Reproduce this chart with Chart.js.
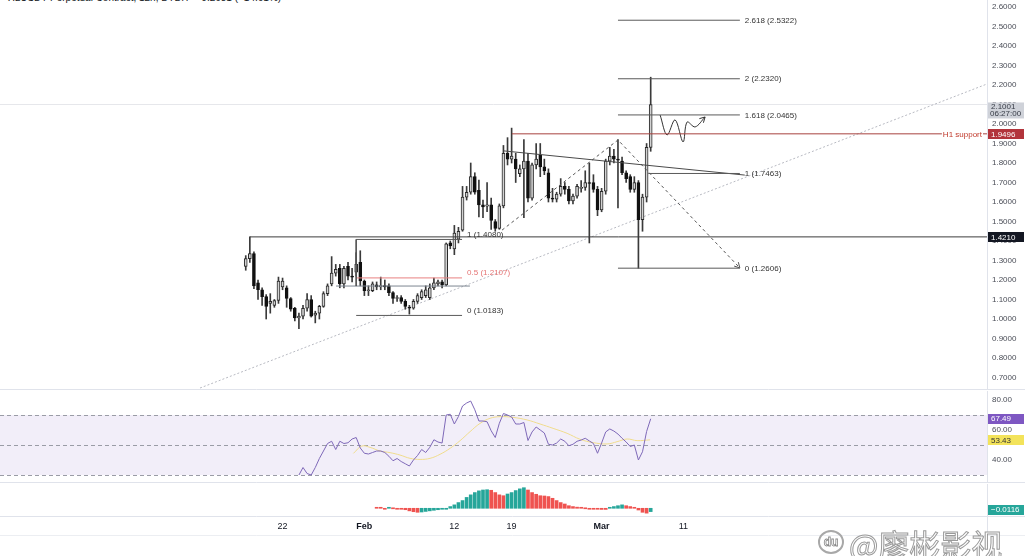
<!DOCTYPE html>
<html>
<head>
<meta charset="utf-8">
<script src="https://cdn.jsdelivr.net/npm/chart.js@4.4.1/dist/chart.umd.min.js"></script>
<style>
  body { margin: 0; background: #fff; width: 1025px; height: 556px; overflow: hidden; position: relative; font-family: "Liberation Sans", Arial, sans-serif; }
  .pane { position: absolute; left: 0; width: 1025px; }
  #title { position: absolute; left: 8px; top: -8px; font-size: 10px; color: #131722; white-space: nowrap; }
  #wm { position: absolute; left: 849px; top: 521px; font-family: "Noto Sans CJK SC", sans-serif; font-size: 31px; color: #fff; -webkit-text-stroke: 1px #9a9a9a; white-space: nowrap; }
  #logo { position: absolute; left: 818px; top: 530px; width: 22px; height: 20px; border: 2px solid #a8a8a8; border-radius: 50%; color: #fff; -webkit-text-stroke: 0.8px #8a8a8a; font: bold 12px "Liberation Sans", Arial; text-align: center; line-height: 20px; }
</style>
</head>
<body>
<div id="title">XLUSDT Perpetual Contract, 12h, BYBIT &nbsp;+0.2681 (+14.61%)</div>
<div class="pane" style="top:0;height:390px"><canvas id="priceChart" width="1025" height="390"></canvas></div>
<div class="pane" style="top:391px;height:92px"><canvas id="rsiChart" width="1025" height="92"></canvas></div>
<div class="pane" style="top:484px;height:56px"><canvas id="macdChart" width="1025" height="56"></canvas></div>
<div id="logo">du</div>
<div id="wm">@廖彬影视</div>
<script>
// 12h candles, day 0 = Feb 1
const firstDay = -14.5;
const opens = [1.270,1.310,1.335,1.185,1.150,1.115,1.080,1.070,1.095,1.165, 1.160,1.105,1.055,1.005,1.015,1.055,1.100,1.020,1.030,1.065,
  1.130,1.180,1.235,1.260,1.180,1.270,1.220,1.240,1.290,1.195, 1.145,1.145,1.175,1.165,1.172,1.170,1.135,1.105,1.110,1.090,
  1.060,1.055,1.090,1.110,1.120,1.110,1.160,1.180,1.190,1.175, 1.390,1.360,1.410,1.455,1.625,1.650,1.730,1.660,1.585,1.578,
  1.585,1.500,1.465,1.580,1.850,1.820,1.820,1.745,1.770,1.810, 1.620,1.790,1.840,1.780,1.750,1.620,1.615,1.640,1.680,1.665,
  1.605,1.630,1.670,1.675,1.700,1.700,1.665,1.560,1.655,1.810, 1.835,1.820,1.810,1.750,1.730,1.665,1.700,1.510,1.625,1.880];
const highs = [1.325,1.421,1.345,1.200,1.160,1.125,1.130,1.100,1.215,1.210, 1.170,1.110,1.060,1.030,1.070,1.130,1.120,1.040,1.070,1.140,
  1.180,1.320,1.280,1.280,1.270,1.290,1.260,1.340,1.350,1.200, 1.170,1.190,1.190,1.215,1.200,1.180,1.140,1.120,1.120,1.100,
  1.070,1.100,1.130,1.150,1.170,1.180,1.210,1.200,1.200,1.390, 1.400,1.480,1.470,1.680,1.680,1.800,1.750,1.713,1.610,1.700,
  1.620,1.510,1.590,1.890,1.930,1.979,1.850,1.790,1.920,1.850, 1.800,1.900,1.900,1.820,1.770,1.670,1.650,1.720,1.700,1.680,
  1.640,1.690,1.710,1.760,1.800,1.740,1.680,1.670,1.820,1.880, 1.870,1.920,1.830,1.760,1.740,1.730,1.710,1.640,1.900,2.240];
const lows = [1.250,1.290,1.155,1.100,1.070,1.000,1.030,1.060,1.080,1.150, 1.060,1.040,0.990,0.950,1.000,1.040,1.010,0.980,1.000,1.060,
  1.120,1.170,1.220,1.160,1.160,1.200,1.190,1.220,1.170,1.120, 1.120,1.140,1.150,1.150,1.150,1.120,1.080,1.090,1.080,1.050,
  1.025,1.050,1.080,1.100,1.110,1.100,1.150,1.170,1.160,1.170, 1.360,1.330,1.390,1.450,1.610,1.640,1.640,1.523,1.520,1.550,
  1.460,1.450,1.460,1.570,1.790,1.800,1.700,1.730,1.520,1.600, 1.610,1.770,1.730,1.740,1.600,1.600,1.600,1.630,1.640,1.590,
  1.590,1.620,1.650,1.660,1.390,1.650,1.530,1.550,1.640,1.790, 1.800,1.570,1.740,1.700,1.650,1.650,1.2606,1.450,1.600,1.860];
const closes = [1.310,1.335,1.170,1.150,1.115,1.065,1.090,1.095,1.195,1.195, 1.105,1.050,1.005,1.015,1.055,1.100,1.015,1.030,1.065,1.130,
  1.170,1.235,1.255,1.180,1.260,1.220,1.215,1.280,1.195,1.145, 1.150,1.180,1.165,1.172,1.165,1.135,1.105,1.110,1.090,1.065,
  1.055,1.090,1.120,1.140,1.150,1.160,1.185,1.190,1.175,1.385, 1.375,1.440,1.450,1.625,1.650,1.730,1.650,1.585,1.575,1.585,
  1.505,1.465,1.580,1.850,1.820,1.835,1.770,1.770,1.810,1.620, 1.790,1.820,1.780,1.760,1.620,1.615,1.640,1.680,1.665,1.605,
  1.630,1.680,1.675,1.700,1.695,1.665,1.560,1.655,1.810,1.835, 1.820,1.815,1.750,1.720,1.665,1.700,1.510,1.625,1.880,2.100];

// RSI(14) from candle 13, RSI-based MA read at a few points
const rsiStart = 13;
const rsiValues = [30,35,31,30,35,41,46,51,52.5,47, 52.5,51,51.5,54,55,48,44.5,44,45,46,
  46,45,42.5,39.5,41,39,37.5,36,40,43, 47,45,48.5,53.5,52,51.3,70,70.5,64,69,
  76,78,79.3,73.5,66,66,65.5,59.5,55,64.5, 71,70,68.7,64,64,65,53,58.7,62,60,
  58,50.5,50,51.3,54,52.5,49.5,50.5,52.5,53.3, 54.5,52.7,51,44.5,51.3,58.7,60.7,59.3,57.3,54.5,
  52,49,50,40,45.5,59,67.49];
const rsiMaDays = [-1.34,-0.32,0.70,1.92,3.14,4.36,5.59,6.81,8.03,9.25,10.48,11.70,12.92,14.14,15.37,16.59,18.18,19.89,21.48,23.07,24.78,26.37,27.96,29.67,30.89,32.12,33.34,34.93];
const rsiMaValues = [44.4,49.3,48.4,46,44.9,43.3,41.1,40.4,41.1,43.8,47.8,52.9,58.9,64.4,67.8,68.9,68.4,66.7,64,61.1,57.8,53.8,51.6,50.7,52.2,54,52.9,53.43];

// MACD histogram from candle 32
const macdStart = 32;
const macdHist = [0.001,0.001,-0.001,0.001,0.000,-0.001,-0.002,-0.005,-0.009,-0.012,
  -0.014,-0.013,-0.011,-0.009,-0.007,-0.005,-0.003,-0.001,0.006,0.012,
  0.020,0.027,0.038,0.047,0.055,0.061,0.064,0.065,0.063,0.055,
  0.047,0.044,0.050,0.055,0.062,0.068,0.072,0.064,0.055,0.049,
  0.044,0.043,0.041,0.035,0.027,0.020,0.015,0.009,0.006,0.004,
  0.001,0.000,-0.001,-0.001,-0.002,-0.004,-0.004,0.002,0.006,0.009,
  0.012,0.009,0.006,0.002,-0.006,-0.014,-0.017,-0.0116];

// axes
const priceTicks = [0.7,0.8,0.9,1.0,1.1,1.2,1.3,1.4,1.5,1.6,1.7,1.8,1.9,2.0,2.1,2.2,2.3,2.4,2.5,2.6];
const rsiTicks = [40, 60, 80];
const tickDays = [-10, 0, 11, 18, 29, 39];
const tickLabels = ['22', 'Feb', '12', '19', 'Mar', '11'];
const monthTicks = [0, 29];

// drawings
const lastPrice = 2.1001, lastTimer = '06:27:00';
const resistRay = 1.4210, resistStart = -14.0;
const supportPrice = 1.9496, supportStart = 18.05, supportText = 'H1 support';
const leftFibLevels = [1, 0.5, 0];
const leftFibPrices = [1.4080, 1.2107, 1.0183];
const leftFibFrom = -1.0, leftFibTo = 11.94;
const boxBottom = 1.169, boxBottomFrom = -3.46, boxBottomTo = 12.9;
const rightFibLevels = [2.618, 2, 1.618, 1, 0];
const rightFibPrices = [2.5322, 2.2320, 2.0465, 1.7463, 1.2606];
const rightFibFrom = [31.0, 31.0, 31.0, 34.7, 31.0], rightFibTo = 45.9;
const swingDays = [16.83, 31.0, 45.9], swingPrices = [1.456, 1.918, 1.262];
const wedgeDays = [17.07, 46.5], wedgePrices = [1.862, 1.738];
const trendDays = [-20.09, 76.1], trendPrices = [0.646, 2.205];
const pathDays = [36.15, 37.0, 37.98, 38.96, 39.45, 40.43, 41.65];
const pathPrices = [2.046, 1.944, 2.021, 1.908, 2.010, 1.985, 2.036];

const xMin = -44.54, xMax = 76.11;
const AXIS_W = 38;
const GRID = '#e0e3eb';
const TXT = '#4a4d57';

Chart.defaults.font.family = '"Liberation Sans", Arial, sans-serif';
Chart.defaults.animation = false;
Chart.defaults.events = [];

const candleDays = opens.map((_, i) => firstDay + i * 0.5);
const up = closes.map((c, i) => c >= opens[i]);

function pts(days, vals) {
  return days.map((d, i) => ({ x: d, y: vals[i] }));
}
function line(data, color, extra) {
  return Object.assign({ type: 'line', data, borderColor: color, borderWidth: 1, pointRadius: 0, fill: false, tension: 0, clip: 0, order: 1 }, extra || {});
}
function xScale(show) {
  return { type: 'linear', min: xMin, max: xMax, offset: false, display: show, grid: { display: false, drawTicks: false }, border: { display: false } };
}
function yScale(min, max, ticks, fmt) {
  return {
    position: 'right', min, max,
    // fixed axis width, and no extra room for half labels at the ends
    afterFit: s => { s.width = AXIS_W; s.paddingTop = 0; s.paddingBottom = 0; },
    afterBuildTicks: s => { s.ticks = ticks.map(v => ({ value: v })); },
    grid: { display: false, drawTicks: false }, border: { display: false },
    ticks: { padding: 5, color: TXT, font: { size: 8 }, callback: fmt }
  };
}
function tag(ctx, y, text, bg, fg, h) {
  h = h || 11;
  ctx.fillStyle = bg;
  ctx.fillRect(988, Math.round(y - h / 2), 36, h);
  ctx.fillStyle = fg;
  ctx.font = '8px "Liberation Sans", Arial';
  ctx.textAlign = 'left';
  ctx.textBaseline = 'middle';
  ctx.fillText(text, 991, y + 0.5);
}
function frame(ctx, chart, bottomLine) {
  ctx.save();
  ctx.strokeStyle = GRID;
  ctx.lineWidth = 1;
  ctx.beginPath();
  ctx.moveTo(987.5, 0); ctx.lineTo(987.5, chart.height);
  if (bottomLine !== null) { ctx.moveTo(0, bottomLine + 0.5); ctx.lineTo(1025, bottomLine + 0.5); }
  ctx.stroke();
  ctx.restore();
}
function arrowHead(ctx, x1, y1, x2, y2, color) {
  const a = Math.atan2(y2 - y1, x2 - x1), len = 6;
  ctx.save();
  ctx.strokeStyle = color; ctx.lineWidth = 1; ctx.setLineDash([]);
  ctx.beginPath();
  ctx.moveTo(x2 - len * Math.cos(a - 0.5), y2 - len * Math.sin(a - 0.5));
  ctx.lineTo(x2, y2);
  ctx.lineTo(x2 - len * Math.cos(a + 0.5), y2 - len * Math.sin(a + 0.5));
  ctx.stroke();
  ctx.restore();
}

// ---------- price pane ----------
const priceDatasets = [
  line(pts(trendDays, trendPrices), '#b8bac2', { borderDash: [2, 2], order: 5 }),
  line(pts([xMin, xMax], [lastPrice, lastPrice]), '#e6e7eb', { order: 5 }),
  { type: 'bar', data: candleDays.map((d, i) => ({ x: d, y: [lows[i], highs[i]] })), backgroundColor: '#3a3a3a', barThickness: 1, grouped: false, order: 4 },
  { type: 'bar', data: candleDays.map((d, i) => ({ x: d, y: [opens[i], closes[i]] })),
    backgroundColor: up.map(u => u ? '#d2d2d2' : '#111111'), borderColor: up.map(u => u ? '#2a2a2a' : '#111111'),
    borderWidth: 1, borderSkipped: false, barThickness: 3, minBarLength: 1, grouped: false, order: 3 },
  line(pts([resistStart, xMax], [resistRay, resistRay]), '#3c3c3c'),
  line(pts([supportStart, xMax], [supportPrice, supportPrice]), '#a8423f'),
  line(pts([leftFibFrom, leftFibFrom], [leftFibPrices[0], boxBottom]), '#555'),
  line(pts([boxBottomFrom, boxBottomTo], [boxBottom, boxBottom]), '#7d8590'),
  ...leftFibPrices.map((p, i) => line(pts([leftFibFrom, leftFibTo], [p, p]), leftFibLevels[i] === 0.5 ? '#e88080' : '#5a5a5a')),
  ...rightFibPrices.map((p, i) => line(pts([rightFibFrom[i], rightFibTo], [p, p]), '#5a5a5a')),
  line(pts(wedgeDays, wedgePrices), '#4a4a4a'),
  line(pts(swingDays, swingPrices), '#555', { borderDash: [3, 3], arrow: true }),
  line(pts(pathDays, pathPrices), '#333', { tension: 0.35, arrow: true })
];

const pricePlugin = {
  id: 'priceExtras',
  afterDatasetsDraw(chart) {
    const ctx = chart.ctx, x = chart.scales.x, y = chart.scales.y;
    ctx.save();
    ctx.font = '8px "Liberation Sans", Arial';
    ctx.textAlign = 'left';
    leftFibPrices.forEach((p, i) => {
      ctx.fillStyle = leftFibLevels[i] === 0.5 ? '#e57373' : '#333';
      ctx.textBaseline = 'bottom';
      ctx.fillText(leftFibLevels[i] + ' (' + p.toFixed(4) + ')', x.getPixelForValue(leftFibTo) + 5, y.getPixelForValue(p) - 1);
    });
    rightFibPrices.forEach((p, i) => {
      ctx.fillStyle = '#333';
      ctx.textBaseline = 'middle';
      ctx.fillText(rightFibLevels[i] + ' (' + p.toFixed(4) + ')', x.getPixelForValue(rightFibTo) + 5, y.getPixelForValue(p) + 0.5);
    });
    // support label
    const sy = y.getPixelForValue(supportPrice);
    const tw = ctx.measureText(supportText).width;
    ctx.fillStyle = '#fff';
    ctx.fillRect(983 - tw - 2, sy - 5, tw + 2, 10);
    ctx.fillStyle = '#c0392b';
    ctx.textAlign = 'right';
    ctx.textBaseline = 'middle';
    ctx.fillText(supportText, 982, sy + 0.5);
    ctx.restore();
    chart.data.datasets.forEach((ds, i) => {
      if (!ds.arrow) return;
      const p = chart.getDatasetMeta(i).data;
      const a = p[p.length - 2], b = p[p.length - 1];
      arrowHead(ctx, a.x, a.y, b.x, b.y, ds.borderColor);
    });
  },
  afterDraw(chart) {
    const ctx = chart.ctx, y = chart.scales.y;
    frame(ctx, chart, 389);
    ctx.save();
    const py = y.getPixelForValue(lastPrice);
    ctx.fillStyle = '#cfd2d9';
    ctx.fillRect(988, py - 2, 36, 16);
    ctx.fillStyle = '#363a45';
    ctx.font = '8px "Liberation Sans", Arial';
    ctx.textAlign = 'left'; ctx.textBaseline = 'middle';
    ctx.fillText(lastPrice.toFixed(4), 991, py + 2.5);
    ctx.fillText(lastTimer, 990, py + 9.5);
    tag(ctx, y.getPixelForValue(supportPrice), supportPrice.toFixed(4), '#b2343b', '#fff', 10);
    tag(ctx, y.getPixelForValue(resistRay), resistRay.toFixed(4), '#131722', '#fff', 10);
    ctx.restore();
  }
};

new Chart(document.getElementById('priceChart'), {
  type: 'bar',
  data: { datasets: priceDatasets },
  options: {
    responsive: false,
    layout: { padding: 0 },
    plugins: { legend: { display: false }, tooltip: { enabled: false } },
    scales: { x: xScale(false), y: yScale(0.6359, 2.6359, priceTicks, v => v.toFixed(4)) }
  },
  plugins: [pricePlugin]
});

// ---------- RSI pane ----------
const rsiPlugin = {
  id: 'rsiExtras',
  beforeDatasetsDraw(chart) {
    const ctx = chart.ctx, y = chart.scales.y, a = chart.chartArea;
    ctx.save();
    ctx.fillStyle = 'rgba(126,87,194,0.1)';
    ctx.fillRect(a.left, y.getPixelForValue(70), a.right - a.left, y.getPixelForValue(30) - y.getPixelForValue(70));
    ctx.strokeStyle = '#9a9ca6';
    ctx.setLineDash([4, 3]);
    ctx.lineWidth = 1;
    [70, 50, 30].forEach(v => {
      const py = Math.round(y.getPixelForValue(v)) + 0.5;
      ctx.beginPath(); ctx.moveTo(a.left, py); ctx.lineTo(a.right, py); ctx.stroke();
    });
    ctx.restore();
  },
  afterDraw(chart) {
    const ctx = chart.ctx, y = chart.scales.y;
    frame(ctx, chart, 91);
    tag(ctx, y.getPixelForValue(rsiValues[rsiValues.length - 1]), rsiValues[rsiValues.length - 1].toFixed(2), '#7e57c2', '#fff', 10);
    tag(ctx, y.getPixelForValue(rsiMaValues[rsiMaValues.length - 1]), rsiMaValues[rsiMaValues.length - 1].toFixed(2), '#f3e35a', '#333', 10);
  }
};

new Chart(document.getElementById('rsiChart'), {
  type: 'line',
  data: {
    datasets: [
      line(pts(rsiMaDays, rsiMaValues), '#f0dc8c', { tension: 0.4, order: 2 }),
      line(rsiValues.map((v, k) => ({ x: firstDay + (rsiStart + k) * 0.5, y: v })), '#7e68b8', { order: 1 })
    ]
  },
  options: {
    responsive: false,
    layout: { padding: 0 },
    plugins: { legend: { display: false }, tooltip: { enabled: false } },
    scales: { x: xScale(false), y: yScale(24.67, 86.0, rsiTicks, v => v.toFixed(2)) }
  },
  plugins: [rsiPlugin]
});

// ---------- MACD pane + time axis ----------
const macdColors = macdHist.map((v, k) => (k > 0 && v > macdHist[k - 1]) ? '#26a69a' : '#ef5350');
const macdPlugin = {
  id: 'macdExtras',
  afterDraw(chart) {
    const ctx = chart.ctx, y = chart.scales.y;
    frame(ctx, chart, 32);
    ctx.save();
    ctx.strokeStyle = '#eceef2';
    ctx.beginPath(); ctx.moveTo(0, 51.5); ctx.lineTo(1025, 51.5); ctx.stroke();
    ctx.restore();
    const last = macdHist[macdHist.length - 1];
    tag(ctx, y.getPixelForValue(last) - 2, (last < 0 ? '\u2212' : '') + Math.abs(last).toFixed(4), '#26a69a', '#fff', 10);
  }
};

const xAxis = xScale(true);
xAxis.afterFit = s => { s.height = 24; s.paddingLeft = 0; s.paddingRight = 0; };
xAxis.afterBuildTicks = s => { s.ticks = tickDays.map(v => ({ value: v })); };
xAxis.ticks = {
  padding: 5, maxRotation: 0, autoSkip: false, color: '#131722',
  font: c => ({ size: 9, weight: (c.tick && monthTicks.includes(c.tick.value)) ? 'bold' : 'normal' }),
  callback: v => tickLabels[tickDays.indexOf(v)]
};

new Chart(document.getElementById('macdChart'), {
  type: 'bar',
  data: {
    datasets: [{
      data: macdHist.map((v, k) => ({ x: firstDay + (macdStart + k) * 0.5, y: v })),
      backgroundColor: macdColors, barThickness: 3, grouped: false, minBarLength: 1
    }]
  },
  options: {
    responsive: false,
    layout: { padding: 0 },
    plugins: { legend: { display: false }, tooltip: { enabled: false } },
    scales: {
      x: xAxis,
      y: Object.assign(yScale(-0.027, 0.085, [], v => ''), { ticks: { display: false } })
    }
  },
  plugins: [macdPlugin]
});
</script>
</body>
</html>
